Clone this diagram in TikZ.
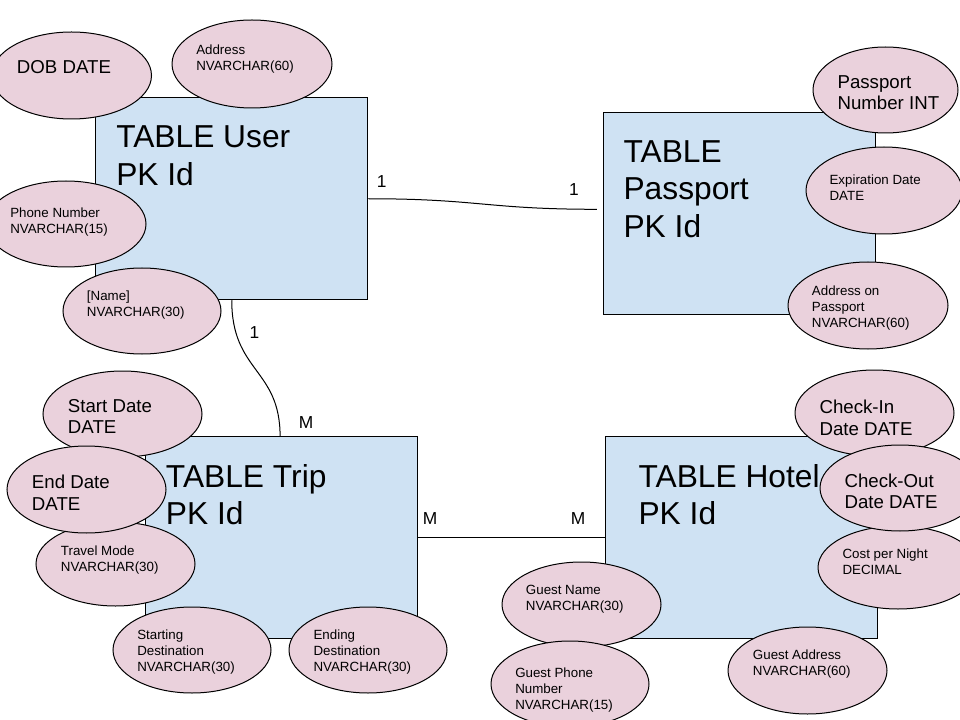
\documentclass[tikz,border=0pt]{standalone}
\usepackage{fontspec}
\setmainfont{Liberation Sans}
\usetikzlibrary{shapes.geometric}
\definecolor{boxblue}{HTML}{CFE2F3}
\definecolor{attrpink}{HTML}{EAD1DC}
\tikzset{
  tbl/.style={draw=black, fill=boxblue, line width=0.75pt, inner sep=0pt,
              minimum width=204pt, minimum height=151.5pt},
  attr/.style={ellipse, draw=black, fill=attrpink, line width=0.75pt, inner sep=0pt},
  sm/.style={anchor=north west, inner sep=0pt, align=left, font=\fontsize{10}{12}\selectfont},
  md/.style={anchor=north west, inner sep=0pt, align=left, font=\fontsize{14}{16}\selectfont},
  lg/.style={anchor=north west, inner sep=0pt, align=left, font=\fontsize{23.8}{28.3}\selectfont},
  lbl/.style={inner sep=0pt, font=\fontsize{13}{15}\selectfont},
  conn/.style={draw=black, line width=0.75pt}
}
\begin{document}
\begin{tikzpicture}[x=0.75pt,y=-0.75pt]
\useasboundingbox (0,0) rectangle (960,720);
\fill[white] (0,0) rectangle (960,720);

% tables
\node[tbl] (user) at (231.75,198.75) {};
\node[lg] (tuser) at (116,125.7) {TABLE User\\PK Id};
\node[tbl] (pass) at (739.3,213.3) {};
\node[lg] (tpass) at (623.3,140) {TABLE\\Passport\\PK Id};
\node[tbl] (trip) at (281.7,537.85) {};
\node[lg] (ttrip) at (165.7,464) {TABLE Trip\\PK Id};
\node[tbl] (hotel) at (741.3,537.85) {};
\node[lg] (thotel) at (638.3,464) {TABLE Hotel\\PK Id};

% connectors
\coordinate (pend) at ([xshift=-4.5pt,yshift=3pt]pass.west);
\draw[conn] (user.east) .. controls +(110,0) and +(-110,0) .. (pend);
\coordinate (tend) at ([xshift=-1.2pt]trip.north);
\draw[conn] (user.south) .. controls +(0,72) and +(0,-68) .. (tend);
\draw[conn] (trip.east) -- (hotel.west);

\node[lbl] (l1) at (381.7,182) {1};
\node[lbl] (l2) at (574,190) {1};
\node[lbl] (l3) at (254.5,332.5) {1};
\node[lbl] (l4) at (306,422.5) {M};
\node[lbl] (l5) at (430,519) {M};
\node[lbl] (l6) at (578,519) {M};

% User attributes
\node[attr, minimum width=120pt, minimum height=65.25pt] (dob) at (71.5,75.5) {};
\node[md] at (16.7,60) {DOB DATE};
\node[attr, minimum width=120pt, minimum height=66pt] (addr) at (252,64) {};
\node[sm] at (196,44.3) {Address\\NVARCHAR(60)};
\node[attr, minimum width=120pt, minimum height=64.5pt] (phone) at (66,224) {};
\node[sm] at (10,207.3) {Phone Number\\NVARCHAR(15)};
\node[attr, minimum width=118.5pt, minimum height=64.5pt] (name) at (142,311) {};
\node[sm] at (86.7,290.7) {[Name]\\NVARCHAR(30)};

% Passport attributes
\node[attr, minimum width=108.75pt, minimum height=64.5pt] (pnum) at (885.5,90) {};
\node[md] at (837.3,75) {Passport\\Number INT};
\node[attr, minimum width=117pt, minimum height=65.25pt] (exp) at (884,190.5) {};
\node[sm] at (829.3,175) {Expiration Date\\DATE};
\node[attr, minimum width=120pt, minimum height=65.25pt] (addrp) at (868,305.5) {};
\node[sm] at (811.7,286) {Address on\\Passport\\NVARCHAR(60)};

% Trip attributes
\node[attr, minimum width=119.25pt, minimum height=64.5pt] (start) at (122.5,414) {};
\node[md] at (67.7,399.3) {Start Date\\DATE};
\node[attr, minimum width=119.25pt, minimum height=63pt] (travel) at (115.5,564) {};
\node[sm] at (60.7,546) {Travel Mode\\NVARCHAR(30)};
\node[attr, minimum width=119.25pt, minimum height=65.25pt] (enddate) at (86.5,489.5) {};
\node[md] at (31.7,475) {End Date\\DATE};
\node[attr, minimum width=118.5pt, minimum height=64.5pt] (sdest) at (192,650) {};
\node[sm] at (137,629.3) {Starting\\Destination\\NVARCHAR(30)};
\node[attr, minimum width=118.5pt, minimum height=64.5pt] (edest) at (368,650) {};
\node[sm] at (313.3,629.3) {Ending\\Destination\\NVARCHAR(30)};

% Hotel attributes
\node[attr, minimum width=119.25pt, minimum height=64.5pt] (checkin) at (874.5,413) {};
\node[md] at (819.3,400) {Check-In\\Date DATE};
\node[attr, minimum width=120pt, minimum height=62.25pt] (cost) at (898,567.5) {};
\node[sm] at (842.3,549) {Cost per Night\\DECIMAL};
\node[attr, minimum width=120pt, minimum height=64.5pt] (checkout) at (900,488) {};
\node[md] at (844.3,473.3) {Check-Out\\Date DATE};
\node[attr, minimum width=119.25pt, minimum height=63.75pt] (gname) at (581.5,604.5) {};
\node[sm] at (525.7,585) {Guest Name\\NVARCHAR(30)};
\node[attr, minimum width=118.5pt, minimum height=64.5pt] (gphone) at (570,684) {};
\node[sm] at (515,667.3) {Guest Phone\\Number\\NVARCHAR(15)};
\node[attr, minimum width=119.25pt, minimum height=65.25pt] (gaddr) at (807.5,670.5) {};
\node[sm] at (752.7,650) {Guest Address\\NVARCHAR(60)};
\end{tikzpicture}
\end{document}
